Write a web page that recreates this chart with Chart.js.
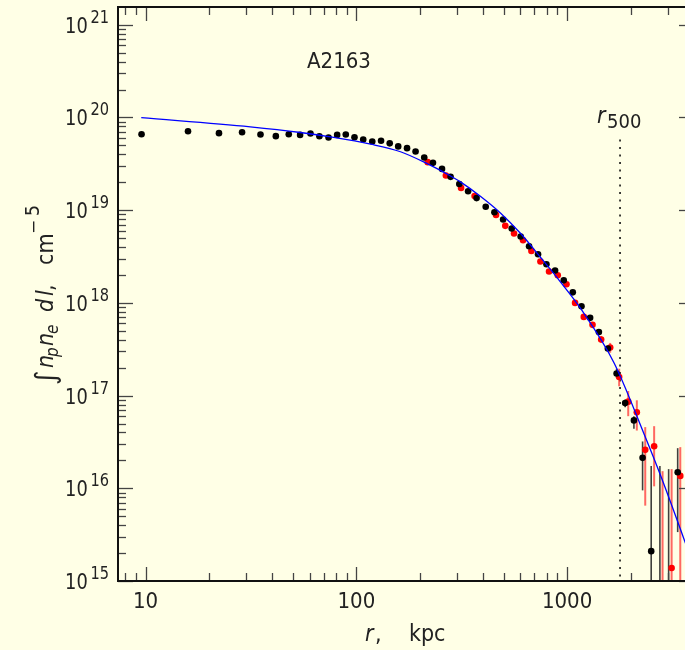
<!DOCTYPE html>
<html><head><meta charset="utf-8">
<script src="https://cdn.jsdelivr.net/npm/chart.js@4.4.1/dist/chart.umd.min.js"></script>
<style>html,body{margin:0;padding:0;overflow:hidden;background:#FFFFE6;width:685px;height:650px}canvas{display:block}</style>
</head><body><canvas id="c" width="700" height="650"></canvas>
<script>
// ---- data ----
const blackR = [9.57,15.9,22.3,28.7,35.1,41.5,47.8,54.1,60.6,66.8,73.8,81.1,89.1,98,107.8,119,131,144,158,174,191,210,231,255,280,308,339,372,411,452,497,546,602,660,728,798,877,964,1064,1170,1286,1415,1561,1717,1886,2075,2281,2506,2756,3032,3347];
const blackV = [6.6e19,7.1e19,6.78e19,6.94e19,6.56e19,6.29e19,6.6e19,6.49e19,6.71e19,6.28e19,6.08e19,6.49e19,6.56e19,6.12e19,5.8e19,5.51e19,5.62e19,5.26e19,4.88e19,4.67e19,4.3e19,3.7e19,3.24e19,2.79e19,2.29e19,1.92e19,1.6e19,1.35e19,1.09e19,9.5e18,7.94e18,6.35e18,5.2e18,4.09e18,3.35e18,2.61e18,2.24e18,1.75e18,1.3e18,9.2e17,6.9e17,4.86e17,3.22e17,1.73e17,8.3e16,5.4e16,2.13e16,2.1e15,null,null,1.49e16];
// error bars for black points (radius, upper, lower)
const blackErrR  = [1717,1886,2075,2281,2506,2756,3032,3347];
const blackErrHi = [1.95e17,9.1e16,6.0e16,3.2e16,1.74e16,1.74e16,1.61e16,2.71e16];
const blackErrLo = [1.55e17,7.5e16,4.4e16,9.5e15,1e14,1e14,1e14,3.37e15];

const redR = [218,266,314,364,460,509,560,618,677,747,821,903,993,1091,1200,1320,1451,1601,1766,1950,2142,2348,2588,2837,3132,3443];
const redV = [3.3e19,2.37e19,1.74e19,1.42e19,8.9e18,6.78e18,5.61e18,4.74e18,3.64e18,2.8e18,2.18e18,1.99e18,1.59e18,1.0e18,7.06e17,5.8e17,4.03e17,3.3e17,1.59e17,8.6e16,6.6e16,2.6e16,2.84e16,null,1.38e15,1.36e16];
const redErrR  = [1451,1601,1766,1950,2142,2348,2588,2837,3132,3443];
const redErrHi = [4.4e17,3.7e17,1.95e17,1.12e17,8.9e16,4.57e16,4.68e16,1.53e16,1.61e16,2.78e16];
const redErrLo = [3.7e17,2.9e17,1.26e17,6.0e16,4.2e16,6.5e15,1.05e16,1e14,1e14,1e14];

const modelR = [9.54,31.4,54.3,75.4,116.9,162,218,270,313,389,484,602,749,933,1161,1671,2323,2786,3664,4000];
const modelV = [9.95e19,7.92e19,6.89e19,6.17e19,5.15e19,4.27e19,3.16e19,2.45e19,2.01e19,1.406e19,9.29e18,5.6e18,3.09e18,1.667e18,8.65e17,2.25e17,3.81e16,1.35e16,2.47e15,1.4e15];

const r500 = 1783;
const r500Top = 5.8e19;
const xTickValues = [10,100,1000];
const xTickLabels = ['10','100','1000'];
const yTickExps = [15,16,17,18,19,20,21];
const clusterName = 'A2163';

const X_MIN = 7.4, X_MAX = 4000, Y_MIN = 1e15, Y_MAX = 1.556e21;
const FONT = "'Liberation Sans Narrow','DejaVu Sans Condensed','Arial Narrow',sans-serif";
const BG = '#FFFFE6', TXT = '#222';

function pts(rs, vs){ const o=[]; rs.forEach((r,i)=>{ if(vs[i]!==null) o.push({x:r,y:vs[i]}); }); return o; }

const decor = {
  id:'decor',
  beforeDraw(chart){
    const c=chart.ctx; c.save(); c.fillStyle=BG; c.fillRect(0,0,chart.width,chart.height); c.restore();
  },
  beforeDatasetsDraw(chart){
    const c=chart.ctx, xs=chart.scales.x, ys=chart.scales.y, a=chart.chartArea;
    c.save();
    c.beginPath(); c.rect(a.left,a.top,a.right-a.left,a.bottom-a.top); c.clip();
    // r500 dotted line
    c.strokeStyle='#111'; c.lineWidth=1.6; c.setLineDash([2,5.5]);
    const px=xs.getPixelForValue(r500);
    c.beginPath(); c.moveTo(px, ys.getPixelForValue(r500Top)); c.lineTo(px, a.bottom); c.stroke();
    c.setLineDash([]);
    // error bars
    const eb=(R,H,L,col,w)=>{ c.strokeStyle=col; c.lineWidth=w; R.forEach((r,i)=>{ const x=xs.getPixelForValue(r); c.beginPath(); c.moveTo(x, ys.getPixelForValue(H[i])); c.lineTo(x, ys.getPixelForValue(L[i])); c.stroke(); }); };
    eb(redErrR,redErrHi,redErrLo,'rgba(255,40,40,0.7)',2);
    eb(blackErrR,blackErrHi,blackErrLo,'rgba(30,30,30,0.85)',1.6);
    c.restore();
  },
  afterDraw(chart){
    const c=chart.ctx, xs=chart.scales.x, ys=chart.scales.y, a=chart.chartArea;
    c.save();
    // ticks
    c.strokeStyle='#444'; c.lineWidth=1.3;
    const ln=(x1,y1,x2,y2)=>{c.beginPath();c.moveTo(x1,y1);c.lineTo(x2,y2);c.stroke();};
    yTickExps.concat([14]).forEach(e=>{ for(let m=1;m<=9;m++){ const v=m*Math.pow(10,e); if(v<Y_MIN||v>Y_MAX) continue; const y=Math.round(ys.getPixelForValue(v))+0.5; const L=m===1?15:8; ln(a.left,y,a.left+L,y); ln(a.right,y,a.right-L,y);} });
    [1,10,100,1000].forEach(d=>{ for(let m=1;m<=9;m++){ const v=m*d; if(v<X_MIN||v>X_MAX) continue; const x=Math.round(xs.getPixelForValue(v))+0.5; const L=m===1?14:8; ln(x,a.bottom,x,a.bottom-L); ln(x,a.top,x,a.top+L);} });
    // frame
    c.strokeStyle='#111'; c.lineWidth=2;
    c.strokeRect(a.left,a.top,a.right-a.left,a.bottom-a.top);
    // y tick labels (slightly narrowed)
    c.fillStyle=TXT; c.textBaseline='alphabetic';
    yTickExps.forEach(e=>{
      const y=ys.getPixelForValue(Math.pow(10,e));
      c.save(); c.translate(109,0); c.scale(0.9,1);
      c.font='18px '+FONT; c.textAlign='right';
      const s=String(e); const w=c.measureText(s).width;
      c.fillText(s,0,y-2);
      c.font='22px '+FONT; c.fillText('10',-w-3,y+8);
      c.restore();
    });
    // x tick labels
    c.font='22px '+FONT; c.textAlign='center';
    xTickValues.forEach((v,i)=>{ c.fillText(xTickLabels[i], xs.getPixelForValue(v), 608); });
    // x title
    c.textAlign='left';
    c.font='italic 23px '+FONT; c.fillText('r',365,641);
    c.font='23px '+FONT; c.fillText(',',375,641); c.fillText('kpc',409,641);
    // cluster name
    c.font='22px '+FONT; c.fillText(clusterName,307,68);
    // r500 label
    c.font='italic 23px '+FONT; c.fillText('r',597,123);
    c.font='20px '+FONT; c.fillText('500',607,128);
    // y title (rotated)
    c.save(); c.translate(53,385); c.rotate(-Math.PI/2); c.textAlign='left';
    c.font="28px 'DejaVu Sans',sans-serif"; c.fillText('\u222B',0,2);
    c.font='italic 23px '+FONT; c.fillText('n',17,0);
    c.font='italic 17px '+FONT; c.fillText('p',28,5);
    c.font='italic 23px '+FONT; c.fillText('n',39,0);
    c.font='italic 17px '+FONT; c.fillText('e',51,5);
    c.font='italic 23px '+FONT; c.fillText('d',73,0); c.fillText('l',89,0);
    c.font='23px '+FONT; c.fillText(',',94,0); c.fillText('cm',120,0);
    c.font="17px 'DejaVu Sans',sans-serif"; c.fillText('\u2212',151,-14);
    c.font='19px '+FONT; c.fillText('5',169,-14);
    c.restore();
    c.restore();
  }
};

new Chart(document.getElementById('c').getContext('2d'), {
  type:'scatter',
  data:{ datasets:[
    {label:'model', type:'line', data:pts(modelR,modelV), borderColor:'#0000ff', borderWidth:1.3, pointRadius:0, cubicInterpolationMode:'monotone', fill:false, order:0},
    {label:'black', data:pts(blackR,blackV), backgroundColor:'#000', borderColor:'#000', borderWidth:0, pointRadius:3.3, order:1},
    {label:'red', data:pts(redR,redV), backgroundColor:'#ff0000', borderColor:'#ff0000', borderWidth:0, pointRadius:3.3, order:2}
  ]},
  options:{ responsive:false, animation:false, events:[],
    layout:{padding:{left:118,top:7,right:6,bottom:69}},
    plugins:{legend:{display:false}, tooltip:{enabled:false}},
    scales:{
      x:{type:'logarithmic', min:X_MIN, max:X_MAX, display:false},
      y:{type:'logarithmic', min:Y_MIN, max:Y_MAX, display:false}
    }
  },
  plugins:[decor]
});
</script>
</body></html>
